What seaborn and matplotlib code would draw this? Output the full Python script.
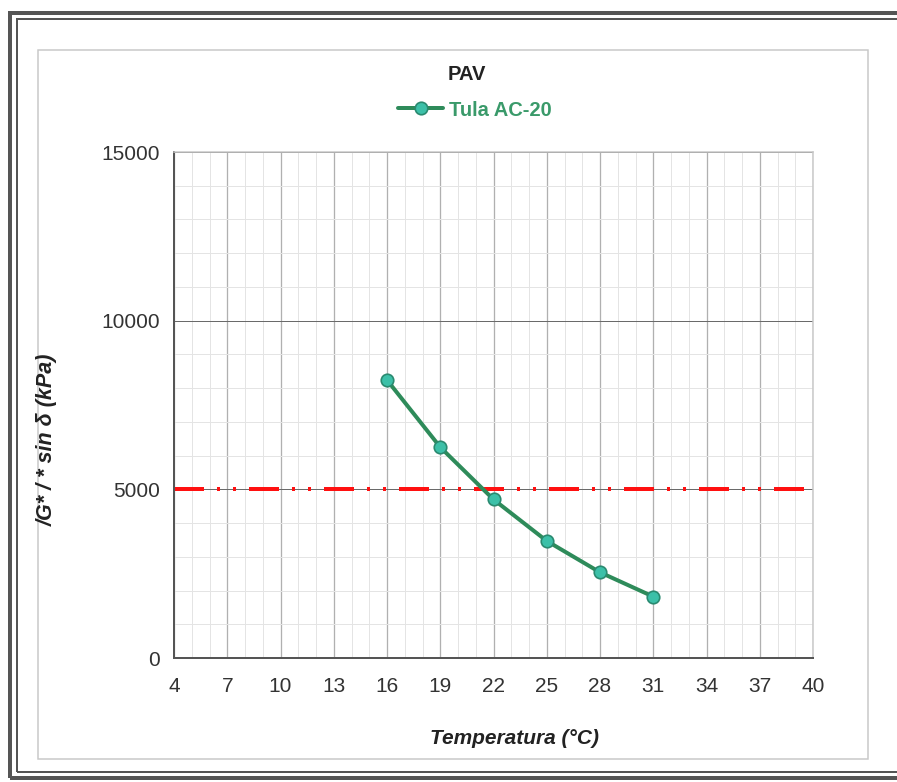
import numpy as np
import pandas as pd
import seaborn as sns
import matplotlib.pyplot as plt
from matplotlib.patches import Rectangle
from matplotlib.ticker import MultipleLocator

# data
temps = [16, 19, 22, 25, 28, 31]
g_sin_delta = [8240, 6250, 4700, 3470, 2540, 1820]
series_name = "Tula AC-20"
limit_value = 5000
x_ticks = list(range(4, 41, 3))
y_ticks = [0, 5000, 10000, 15000]

df = pd.DataFrame({"temp": temps, "g": g_sin_delta})

sns.set_style("white")
plt.rcParams['font.family'] = ['Liberation Sans', 'DejaVu Sans']

W, H = 897, 782
fig = plt.figure(figsize=(W / 100, H / 100), dpi=100)
px = 0.72  # points per pixel at 100 dpi

# page frame (double border) and inner chart-area border
def frame(x0, y0, x1, y1, lw, color):
    fig.patches.append(Rectangle((x0 / W, 1 - y1 / H), (x1 - x0) / W, (y1 - y0) / H,
                                 transform=fig.transFigure, fill=False,
                                 lw=lw * px, edgecolor=color, zorder=0))

frame(10, 13, 905, 778, 4, "#555555")
frame(17, 19, 905, 772, 2, "#555555")
frame(38, 50, 868, 759, 1.5, "#c8c8c8")

ax = fig.add_axes([174 / W, 1 - 658 / H, (813 - 174) / W, (658 - 152) / H])

# grid
ax.xaxis.set_minor_locator(MultipleLocator(1))
ax.yaxis.set_minor_locator(MultipleLocator(1000))
ax.grid(which='minor', axis='both', color="#e4e4e4", lw=1 * px)
ax.grid(which='major', axis='x', color="#b0b0b0", lw=1.3 * px)
ax.grid(which='major', axis='y', color="#6a6a6a", lw=1 * px)
ax.set_axisbelow(True)

# limit line (dash-dot-dot)
ax.axhline(limit_value, color="#ff1010", lw=4 * px,
           dashes=(7.5, 3.25, 0.75, 3.25, 0.75, 3.25), dash_capstyle='butt', zorder=2)

sns.lineplot(data=df, x="temp", y="g", ax=ax, color="#2e8b5a", lw=4 * px,
             marker='o', markersize=9, markerfacecolor="#3cc0a8",
             markeredgecolor="#2a8a70", markeredgewidth=1.2, label=series_name, zorder=3)

ax.set_xlim(4, 40)
ax.set_ylim(0, 15000)
ax.set_xticks(x_ticks)
ax.set_yticks(y_ticks)
ax.tick_params(axis='both', which='major', labelsize=15, colors="#333333",
               length=4, width=1, direction='out', pad=6)
ax.tick_params(axis='both', which='minor', length=0)
ax.tick_params(axis='x', length=0, pad=14)
ax.set_xlabel("")
ax.set_ylabel("")

for side in ['left', 'bottom']:
    ax.spines[side].set_color("#555555")
    ax.spines[side].set_linewidth(2 * px)
for side in ['top', 'right']:
    ax.spines[side].set_color("#c8c8c8")
    ax.spines[side].set_linewidth(1.5 * px)

# title, legend and axis labels
fig.text(467 / W, 1 - 75 / H, "PAV", ha='center', va='center',
         fontsize=14.5, fontweight='bold', color="#222222")
leg = ax.legend(loc='center', bbox_to_anchor=(475 / W, 1 - 110 / H),
                bbox_transform=fig.transFigure, frameon=False,
                handlelength=2.2, handletextpad=0.3, labelcolor="#3a9a6a",
                prop={'weight': 'bold', 'size': 14.5})
fig.text(47 / W, 1 - 440 / H, "/G* / * sin δ (kPa)", rotation=90, ha='center', va='center',
         fontsize=15.5, fontweight='bold', fontstyle='italic', color="#222222")
fig.text(515 / W, 1 - 738 / H, "Temperatura (°C)", ha='center', va='center',
         fontsize=15, fontweight='bold', fontstyle='italic', color="#222222")

fig.savefig("out.png", dpi=100)
